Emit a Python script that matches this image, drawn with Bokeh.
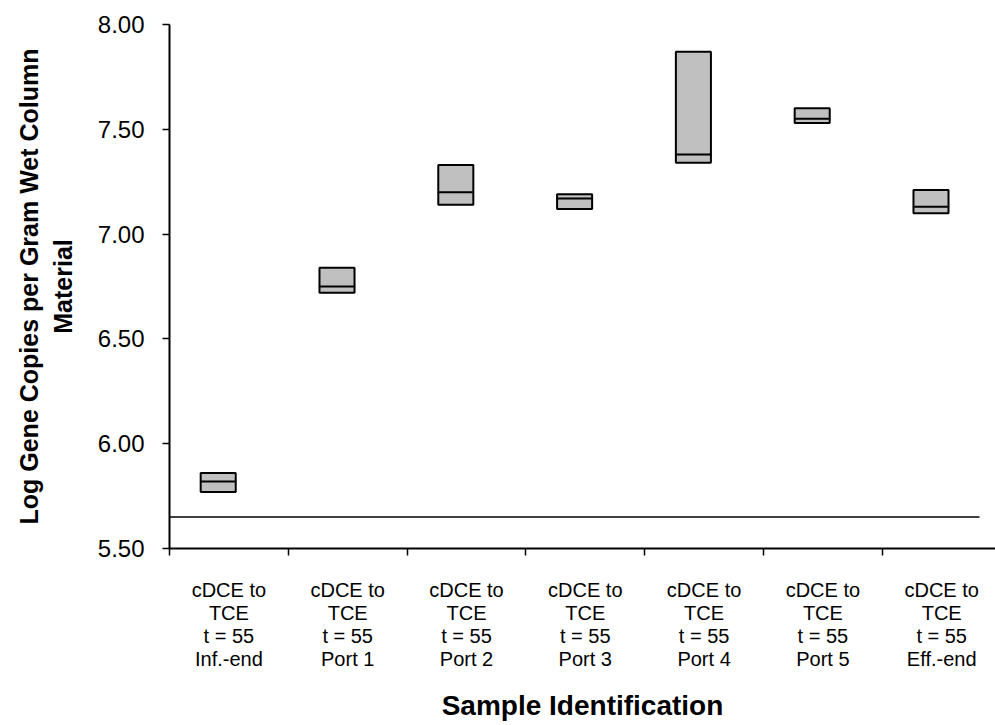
from bokeh.plotting import figure
from bokeh.models import Range1d, FixedTicker, NumeralTickFormatter
from bokeh.embed import file_html
from bokeh.resources import INLINE

# ---- data ----
samples = ["Inf.-end", "Port 1", "Port 2", "Port 3", "Port 4", "Port 5", "Eff.-end"]
label_lines = ["cDCE to", "TCE", "t = 55"]
box_top = [5.86, 6.84, 7.33, 7.19, 7.87, 7.60, 7.21]
box_median = [5.82, 6.75, 7.20, 7.17, 7.38, 7.55, 7.13]
box_bottom = [5.77, 6.72, 7.14, 7.12, 7.34, 7.53, 7.10]
reference_level = [5.65]
y_ticks = [5.5, 6.0, 6.5, 7.0, 7.5, 8.0]

FONT = "Liberation Sans"

n = len(samples)
centers = [i + 0.5 for i in range(n)]
box_x = [c - 0.09 for c in centers]
labels = {c: "\n".join(label_lines + [s]) for c, s in zip(centers, samples)}

p = figure(width=995, height=725,
           x_range=Range1d(0, 6.953), y_range=Range1d(5.5, 8.0),
           output_backend="svg", toolbar_location=None,
           min_border_left=169, min_border_right=0,
           min_border_top=24, min_border_bottom=177)
p.outline_line_color = None
p.xgrid.visible = False
p.ygrid.visible = False
p.background_fill_color = "white"
p.border_fill_color = "white"

# boxes
p.vbar(x=box_x, top=box_top, bottom=box_bottom, width=0.295,
       fill_color="#C0C0C0", line_color="black", line_width=2)
# medians
p.hbar(y=box_median, left=[x - 0.1475 for x in box_x], right=[x + 0.1475 for x in box_x],
       height=0.0001, line_color="black", line_width=2, fill_color=None)
# reference line
p.segment(x0=[0], x1=[6.818], y0=reference_level, y1=reference_level,
          line_color="black", line_width=1.5)

# y axis
ya = p.yaxis[0]
ya.ticker = FixedTicker(ticks=y_ticks, minor_ticks=[])
ya.formatter = NumeralTickFormatter(format="0.00")
ya.axis_line_width = 2
ya.axis_line_color = "black"
ya.major_tick_out = 7
ya.major_tick_in = 0
ya.major_tick_line_width = 1.5
ya.major_label_text_font = FONT
ya.major_label_text_font_size = "24px"
ya.major_label_text_color = "black"
ya.major_label_standoff = 18
ya.axis_label = "Log Gene Copies per Gram Wet Column\nMaterial"
ya.axis_label_text_font = FONT
ya.axis_label_text_font_style = "bold"
ya.axis_label_text_font_size = "25px"
ya.axis_label_text_color = "black"
ya.axis_label_standoff = 18

# x axis
xa = p.xaxis[0]
xa.ticker = FixedTicker(ticks=centers, minor_ticks=list(range(n + 1)))
xa.major_label_overrides = labels
xa.axis_line_width = 2
xa.axis_line_color = "black"
xa.major_tick_line_color = None
xa.major_tick_out = 0
xa.major_tick_in = 0
xa.minor_tick_out = 7
xa.minor_tick_in = 0
xa.minor_tick_line_width = 1.5
xa.minor_tick_line_color = "black"
xa.major_label_text_font = FONT
xa.major_label_text_font_size = "20px"
xa.major_label_text_color = "black"
xa.major_label_text_line_height = 1.05
xa.major_label_standoff = 23
xa.axis_label = "Sample Identification"
xa.axis_label_text_font = FONT
xa.axis_label_text_font_style = "bold"
xa.axis_label_text_font_size = "28px"
xa.axis_label_text_color = "black"
xa.axis_label_standoff = 17

open("out.html", "w").write(file_html(p, INLINE))
